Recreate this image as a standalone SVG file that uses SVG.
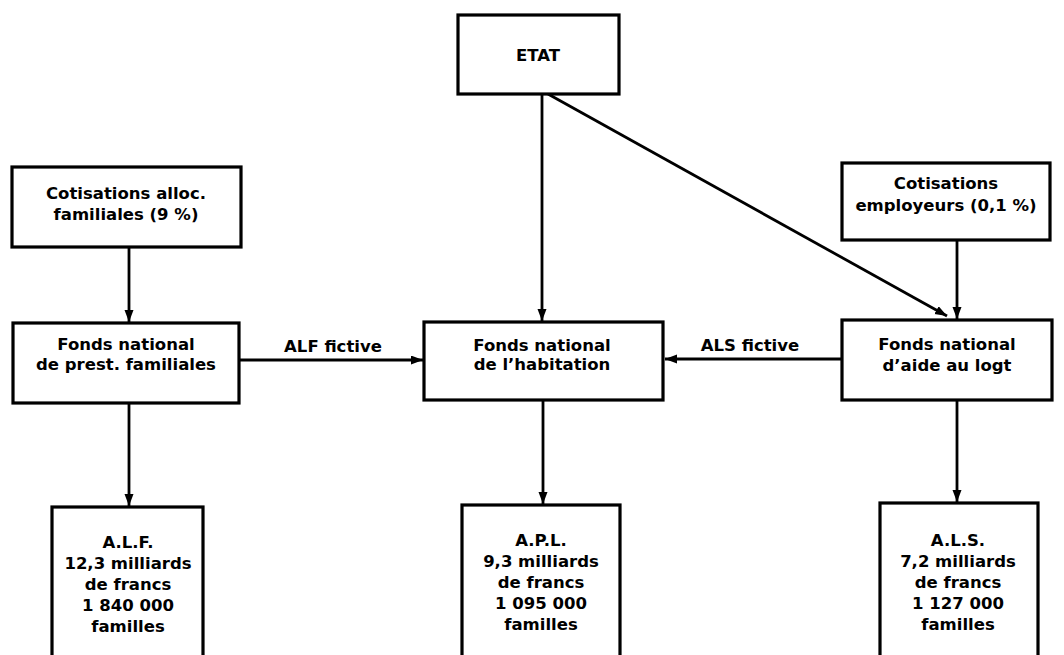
<svg xmlns="http://www.w3.org/2000/svg" width="1064" height="655" viewBox="0 0 1064 655">
<style>
.box{fill:#fff;stroke:#000;stroke-width:3.2}
.t{font-family:"DejaVu Sans","Liberation Sans",sans-serif;font-weight:bold;font-size:16.5px;text-anchor:middle;fill:#000}
.c{stroke:#000;stroke-width:2.8;fill:none}
</style>
<defs>
<marker id="ah" markerUnits="userSpaceOnUse" markerWidth="13" markerHeight="10" refX="12" refY="4.5" orient="auto">
<path d="M0,0 L12,4.5 L0,9 z" fill="#000"/>
</marker>
</defs>
<rect width="1064" height="655" fill="#fff"/>
<g id="connectors">
<line class="c" x1="542" y1="94" x2="542" y2="321" marker-end="url(#ah)"/>
<line class="c" x1="548" y1="94" x2="947" y2="316" marker-end="url(#ah)"/>
<line class="c" x1="129" y1="247" x2="129" y2="322" marker-end="url(#ah)"/>
<line class="c" x1="957" y1="240" x2="957" y2="319" marker-end="url(#ah)"/>
<line class="c" x1="240" y1="360" x2="423" y2="360" marker-end="url(#ah)"/>
<line class="c" x1="842" y1="359" x2="665" y2="359" marker-end="url(#ah)"/>
<line class="c" x1="129" y1="403" x2="129" y2="506" marker-end="url(#ah)"/>
<line class="c" x1="543" y1="400" x2="543" y2="504" marker-end="url(#ah)"/>
<line class="c" x1="957" y1="400" x2="957" y2="502" marker-end="url(#ah)"/>
<text class="t" x="333" y="352">ALF fictive</text>
<text class="t" x="750" y="351">ALS fictive</text>
</g>
<g id="etat">
<rect class="box" x="458" y="15" width="161" height="79"/>
<text class="t" x="538" y="61">ETAT</text>
</g>
<g id="cotis-alloc">
<rect class="box" x="12" y="167" width="229" height="80"/>
<text class="t" x="126" y="199">Cotisations alloc.</text>
<text class="t" x="126" y="220">familiales (9 %)</text>
</g>
<g id="cotis-empl">
<rect class="box" x="842" y="163" width="208" height="77"/>
<text class="t" x="946" y="189">Cotisations</text>
<text class="t" x="946" y="211">employeurs (0,1 %)</text>
</g>
<g id="fonds-prest">
<rect class="box" x="13" y="323" width="226" height="80"/>
<text class="t" x="126" y="350">Fonds national</text>
<text class="t" x="126" y="370">de prest. familiales</text>
</g>
<g id="fonds-hab">
<rect class="box" x="424" y="322" width="239" height="78"/>
<text class="t" x="542" y="351">Fonds national</text>
<text class="t" x="542" y="370">de l’habitation</text>
</g>
<g id="fonds-aide">
<rect class="box" x="842" y="320" width="210" height="80"/>
<text class="t" x="947" y="350">Fonds national</text>
<text class="t" x="947" y="371">d’aide au logt</text>
</g>
<g id="alf">
<rect class="box" x="52" y="507" width="151" height="160"/>
<text class="t" x="128" y="548">A.L.F.</text>
<text class="t" x="128" y="569">12,3 milliards</text>
<text class="t" x="128" y="590">de francs</text>
<text class="t" x="128" y="611">1 840 000</text>
<text class="t" x="128" y="632">familles</text>
</g>
<g id="apl">
<rect class="box" x="462" y="505" width="158" height="160"/>
<text class="t" x="541" y="546">A.P.L.</text>
<text class="t" x="541" y="567">9,3 milliards</text>
<text class="t" x="541" y="588">de francs</text>
<text class="t" x="541" y="609">1 095 000</text>
<text class="t" x="541" y="630">familles</text>
</g>
<g id="als">
<rect class="box" x="880" y="503" width="158" height="160"/>
<text class="t" x="958" y="546">A.L.S.</text>
<text class="t" x="958" y="567">7,2 milliards</text>
<text class="t" x="958" y="588">de francs</text>
<text class="t" x="958" y="609">1 127 000</text>
<text class="t" x="958" y="630">familles</text>
</g>
</svg>
